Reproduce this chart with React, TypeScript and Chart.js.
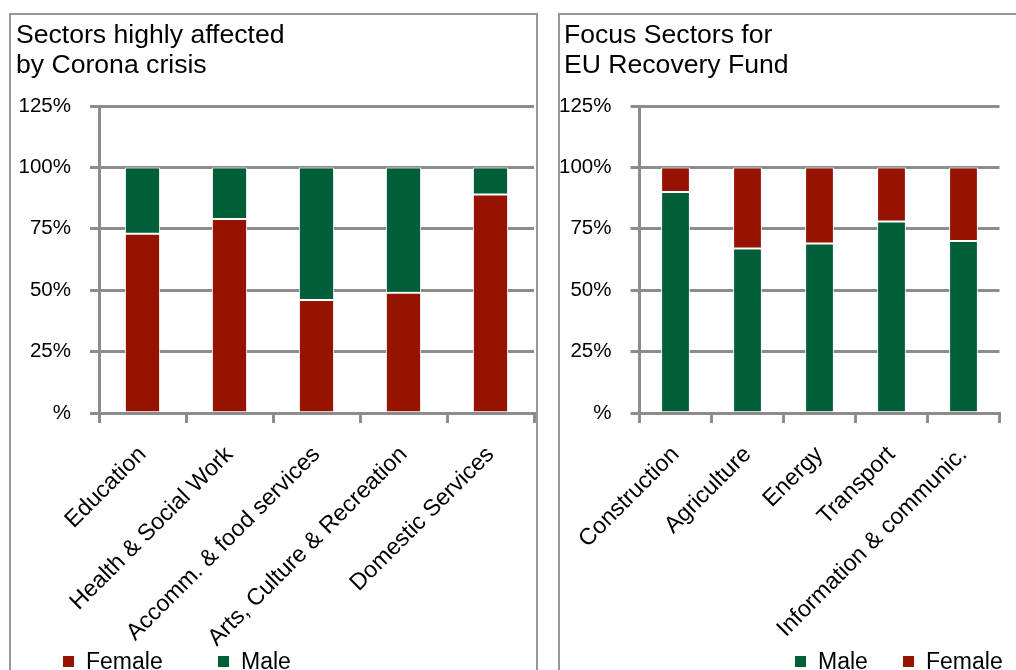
import { useEffect, useRef } from 'react';
import { Chart, registerables } from 'chart.js';

Chart.register(...registerables);

// ---- data ----
const affectedSectors = [
  'Education',
  'Health & Social Work',
  'Accomm. & food services',
  'Arts, Culture & Recreation',
  'Domestic Services',
];
const affectedFemale = [73, 79, 46, 49, 89];
const affectedMale = [27, 21, 54, 51, 11];

const focusSectors = ['Construction', 'Agriculture', 'Energy', 'Transport', 'Information & communic.'];
const focusMale = [90, 67, 69, 78, 70];
const focusFemale = [10, 33, 31, 22, 30];

const yTickValues = [0, 25, 50, 75, 100, 125];
const yTickLabels = ['%', '25%', '50%', '75%', '100%', '125%'];

const leftTitle = ['Sectors highly affected', 'by Corona crisis'];
const rightTitle = ['Focus Sectors for', 'EU Recovery Fund'];

// ---- styling ----
const FEMALE_COLOR = '#951300';
const MALE_COLOR = '#005F38';
const GRID_COLOR = '#8c8c8c';
const FRAME_COLOR = '#979797';
const FONT = '"Liberation Sans", Arial, Helvetica, sans-serif';
const CANVAS_H = 670;

type Series = { label: string; data: number[]; color: string };
type Geometry = { axisWidth: number; padRight: number; barPct: number };

function buildConfig(labels: string[], series: Series[], geo: Geometry): any {
  return {
    type: 'bar',
    data: {
      labels,
      datasets: series.map((s, i) => ({
        label: s.label,
        data: s.data,
        backgroundColor: s.color,
        borderColor: '#ffffff',
        borderWidth: 1,
        // the lowest segment sits flush on the axis, the others keep a white edge all round
        borderSkipped: i === 0 ? 'bottom' : false,
        barPercentage: geo.barPct,
        categoryPercentage: 1,
      })),
    },
    options: {
      responsive: false,
      animation: false,
      devicePixelRatio: 1,
      layout: { padding: { left: 0, right: geo.padRight, top: 106, bottom: 0 } },
      plugins: {
        legend: { display: false },
        title: { display: false },
        tooltip: { enabled: false },
      },
      scales: {
        x: {
          stacked: true,
          offset: true,
          grid: {
            display: true,
            drawOnChartArea: false,
            drawTicks: true,
            tickLength: 10,
            offset: true,
            color: GRID_COLOR,
            lineWidth: 3,
          },
          border: { display: true, color: GRID_COLOR, width: 3, z: 1 },
          ticks: {
            autoSkip: false,
            minRotation: 45,
            maxRotation: 45,
            padding: 18,
            color: '#000',
            font: { family: FONT, size: 23.3 },
          },
          afterFit: (scale: any) => {
            scale.height = CANVAS_H - 413;
          },
        },
        y: {
          stacked: true,
          min: 0,
          max: 125,
          afterBuildTicks: (scale: any) => {
            scale.ticks = yTickValues.map((v) => ({ value: v }));
          },
          grid: { color: GRID_COLOR, lineWidth: 3, drawTicks: true, tickLength: 9 },
          border: { display: true, color: GRID_COLOR, width: 3 },
          ticks: {
            padding: 19,
            color: '#000',
            font: { family: FONT, size: 20.5 },
            callback: (v: number) => yTickLabels[yTickValues.indexOf(v)],
          },
          afterFit: (scale: any) => {
            scale.width = geo.axisWidth;
          },
        },
      },
    },
  };
}

function StackedBars({
  labels,
  series,
  geo,
  left,
  width,
}: {
  labels: string[];
  series: Series[];
  geo: Geometry;
  left: number;
  width: number;
}) {
  const ref = useRef<HTMLCanvasElement>(null);
  useEffect(() => {
    if (!ref.current) return;
    const chart = new Chart(ref.current, buildConfig(labels, series, geo));
    return () => chart.destroy();
  }, []);
  return (
    <canvas
      ref={ref}
      width={width}
      height={CANVAS_H}
      style={{ position: 'absolute', left, top: 0, width, height: CANVAS_H }}
    />
  );
}

function Title({ lines, left }: { lines: string[]; left: number }) {
  return (
    <div
      style={{
        position: 'absolute',
        left,
        top: 19,
        fontSize: 26.6,
        lineHeight: '30px',
        color: '#000',
        whiteSpace: 'nowrap',
      }}
    >
      {lines.map((l) => (
        <div key={l}>{l}</div>
      ))}
    </div>
  );
}

function LegendItem({ label, color, left }: { label: string; color: string; left: number }) {
  return (
    <>
      <div
        style={{ position: 'absolute', left, top: 656, width: 11, height: 11, background: color }}
      />
      <div
        style={{
          position: 'absolute',
          left: left + 23,
          top: 650.3,
          fontSize: 23,
          lineHeight: '23px',
          color: '#000',
          whiteSpace: 'nowrap',
        }}
      >
        {label}
      </div>
    </>
  );
}

export default function App() {
  const leftSeries: Series[] = [
    { label: 'Female', data: affectedFemale, color: FEMALE_COLOR },
    { label: 'Male', data: affectedMale, color: MALE_COLOR },
  ];
  const rightSeries: Series[] = [
    { label: 'Male', data: focusMale, color: MALE_COLOR },
    { label: 'Female', data: focusFemale, color: FEMALE_COLOR },
  ];

  return (
    <div
      style={{
        position: 'fixed',
        left: 0,
        top: 0,
        width: 1016,
        height: 670,
        overflow: 'hidden',
        background: '#fff',
        fontFamily: FONT,
      }}
    >
      {/* panel frames */}
      <div
        style={{
          position: 'absolute',
          left: 9,
          top: 13,
          width: 529,
          height: 700,
          border: `2px solid ${FRAME_COLOR}`,
          boxSizing: 'border-box',
        }}
      />
      <div
        style={{
          position: 'absolute',
          left: 558,
          top: 13,
          width: 600,
          height: 700,
          border: `2px solid ${FRAME_COLOR}`,
          boxSizing: 'border-box',
        }}
      />

      <StackedBars
        labels={affectedSectors}
        series={leftSeries}
        geo={{ axisWidth: 99, padRight: 6, barPct: 0.405 }}
        left={0}
        width={540}
      />
      <StackedBars
        labels={focusSectors}
        series={rightSeries}
        geo={{ axisWidth: 94.5, padRight: 16.5, barPct: 0.4 }}
        left={545}
        width={471}
      />

      <Title lines={leftTitle} left={16} />
      <Title lines={rightTitle} left={564} />

      {leftSeries.map((s, i) => (
        <LegendItem key={s.label} label={s.label} color={s.color} left={[63, 218][i]} />
      ))}
      {rightSeries.map((s, i) => (
        <LegendItem key={s.label} label={s.label} color={s.color} left={[795, 903][i]} />
      ))}
    </div>
  );
}
